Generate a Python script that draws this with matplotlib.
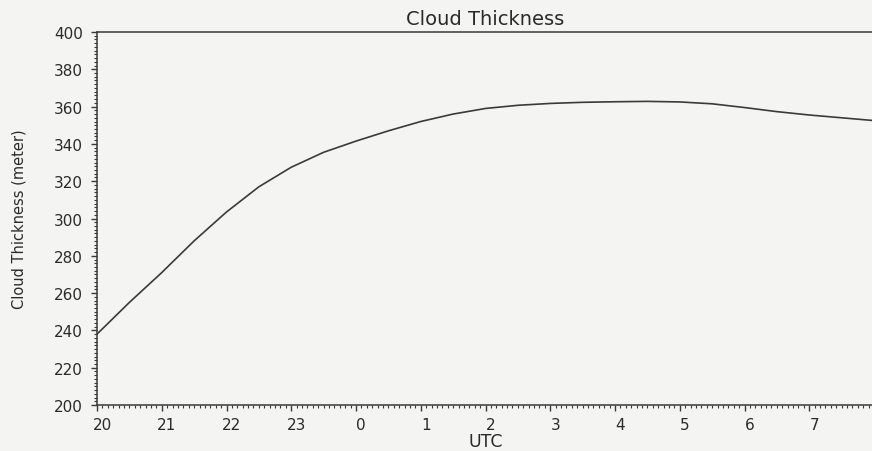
import matplotlib
matplotlib.use("Agg")
import matplotlib.pyplot as plt
from matplotlib.ticker import MultipleLocator
import matplotlib.transforms as mtransforms

# hours since 20 UTC (20 -> 20, 0 UTC -> 24, 8 UTC -> 32)
hours = [20, 20.5, 21, 21.5, 22, 22.5, 23, 23.5, 24, 24.5, 25, 25.5,
         26, 26.5, 27, 27.5, 28, 28.5, 29, 29.5, 30, 30.5, 31, 31.5, 32]
thickness = [238, 255, 271, 288, 303.5, 317, 327.5, 335.5, 341.5, 347, 352, 356,
             359, 360.7, 361.7, 362.3, 362.6, 362.8, 362.5, 361.5, 359.5, 357.3, 355.5, 354, 352.5]

tick_hours = list(range(20, 33))
tick_labels = ['20', '21', '22', '23', '0', '1', '2', '3', '4', '5', '6', '7', '8']

bg = '#f4f4f3'
ink = '#3a3a3a'

plt.rcParams['font.family'] = 'DejaVu Sans'

fig = plt.figure(figsize=(8.72, 4.52), dpi=100, facecolor=bg)
ax = fig.add_axes([97 / 872, 1 - 406 / 452, 777 / 872, 373 / 452])
ax.set_facecolor(bg)

ax.plot(hours, thickness, color=ink, lw=1.2)

ax.set_xlim(20, 32)
ax.set_ylim(200, 400)

ax.set_xticks(tick_hours)
ax.set_xticklabels(tick_labels)
ax.set_yticks(range(200, 401, 20))
ax.xaxis.set_minor_locator(MultipleLocator(1 / 12))
ax.yaxis.set_minor_locator(MultipleLocator(2))

ax.tick_params(axis='both', which='major', direction='out', length=4, width=1.0,
               color=ink, labelcolor='#2a2a2a')
ax.tick_params(axis='x', which='major', labelsize=11, pad=5)
ax.tick_params(axis='y', which='major', labelsize=11, pad=6)
ax.tick_params(axis='both', which='minor', direction='out', length=2, width=0.8, color=ink)
ax.tick_params(top=False, right=False, which='both')

# labels sit a little to the right of the ticks in the scan
offset = mtransforms.ScaledTranslation(5 / 100, 0, fig.dpi_scale_trans)
for lab in ax.get_xticklabels():
    lab.set_transform(lab.get_transform() + offset)

for side in ['left', 'bottom', 'top', 'right']:
    ax.spines[side].set_color(ink)
    ax.spines[side].set_linewidth(1.1)

ax.set_title('Cloud Thickness', fontsize=14, color='#2a2a2a', pad=6)
ax.set_xlabel('UTC', fontsize=12.5, color='#2a2a2a', labelpad=0)
ax.set_ylabel('Cloud Thickness (meter)', fontsize=10.5, color='#2a2a2a', labelpad=20)

fig.savefig('out.png', dpi=100, facecolor=bg)
